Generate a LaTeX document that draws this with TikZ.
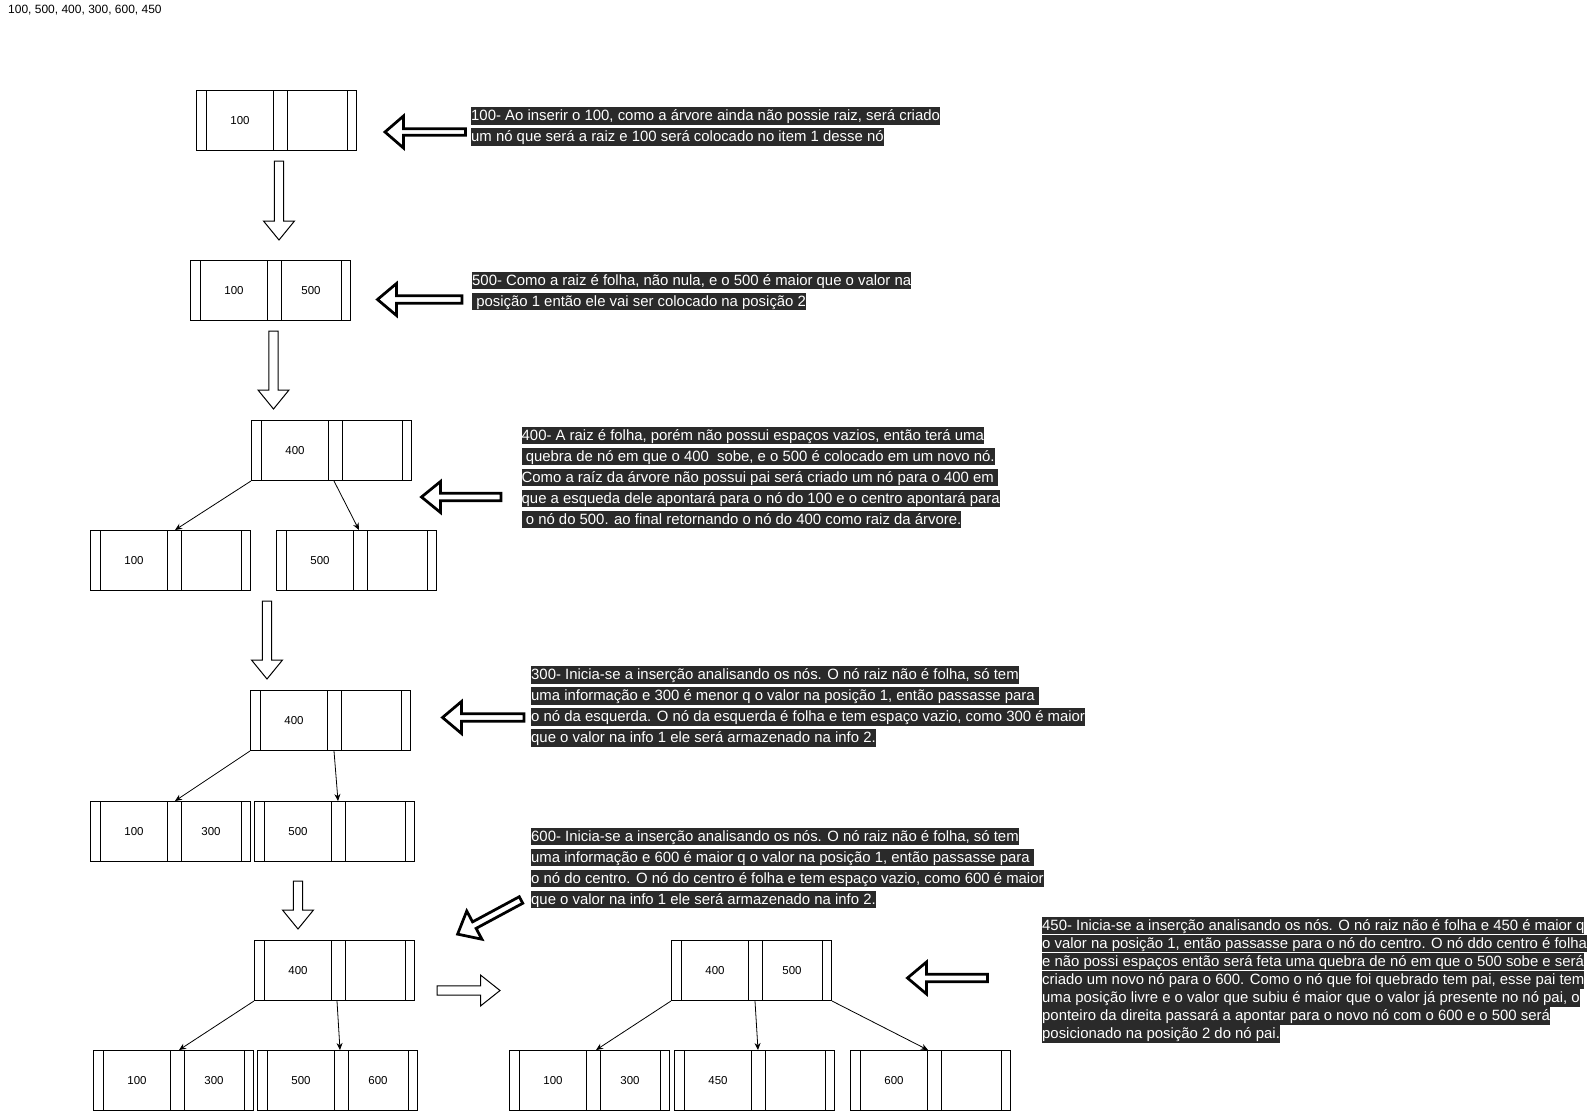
\documentclass[tikz,border=0pt]{standalone}
\usepackage{fontspec}
\setmainfont{Liberation Sans}
\usetikzlibrary{arrows.meta}

\definecolor{hlbg}{HTML}{2A2A2A}

% one highlighted line of an explanation
\newcommand\hl[1]{{\setlength{\fboxsep}{0pt}\colorbox{hlbg}{\rule[-4pt]{0pt}{17.5pt}\textcolor{white}{#1}}}}

% block arrow: style, tail point, angle, length, shaft half-width, head half-width, head length
\newcommand\blockarrow[7]{%
  \draw[#1, shift={#2}, rotate=#3]
    (0,-#5) -- ({#4-#7},-#5) -- ({#4-#7},-#6) -- (#4,0) -- ({#4-#7},#6) -- ({#4-#7},#5) -- (0,#5) -- cycle;}

% a B-tree node with two keys: name, top-left corner, key 1, key 2
\newcommand\treenode[4]{%
  \node[kbox, anchor=north west] (#1) at #2 {};
  \node[keyt] (#1-k1) at ([xshift=44pt]#1.west) {#3};
  \node[keyt] (#1-k2) at ([xshift=121pt]#1.west) {#4};}

\tikzset{
  kbox/.style={draw, line width=1pt, minimum width=160pt, minimum height=60pt, inner sep=0pt,
    path picture={\foreach \o in {10,77,91,151}{
      \draw[line width=1pt] ([xshift=\o pt]path picture bounding box.north west) -- ([xshift=\o pt]path picture bounding box.south west);}}},
  keyt/.style={font=\fontsize{11.5}{13}\selectfont, inner sep=0pt},
  link/.style={line width=0.8pt, -{Stealth[length=7pt,width=6pt]}},
  flowarrow/.style={draw, fill=white, line width=1pt, line join=miter},
  notearrow/.style={draw, fill=white, line width=2.75pt, line join=miter},
  note/.style={anchor=north west, inner sep=0pt, align=left, font=\fontsize{14.9}{21}\selectfont},
}

\begin{document}
\begin{tikzpicture}[x=1pt, y=-1pt]
\useasboundingbox[fill=white] (0,0) rectangle (1591,1111);

\node[anchor=west, inner sep=0pt, font=\fontsize{12}{14}\selectfont] (seq) at (8,10) {100, 500, 400, 300, 600, 450};

% insertion of 100
\treenode{B1}{(196,90)}{100}{}
% insertion of 500
\treenode{B2}{(190,260)}{100}{500}
% insertion of 400
\treenode{B3}{(251,420)}{400}{}
\treenode{B4}{(90,530)}{100}{}
\treenode{B5}{(276,530)}{500}{}
% insertion of 300
\treenode{B6}{(250,690)}{400}{}
\treenode{B7}{(90,801)}{100}{300}
\treenode{B8}{(254,801)}{500}{}
% insertion of 600
\treenode{B9}{(254,940)}{400}{}
\treenode{B10}{(93,1050)}{100}{300}
\treenode{B11}{(257,1050)}{500}{600}
% insertion of 450
\treenode{B12}{(671,940)}{400}{500}
\treenode{B13}{(509,1050)}{100}{300}
\treenode{B14}{(674,1050)}{450}{}
\treenode{B15}{(850,1050)}{600}{}

% child pointers
\draw[link] (B3.south west) -- ([xshift=85pt]B4.north west);
\draw[link] ([xshift=83pt]B3.south west) -- ([xshift=83pt]B5.north west);
\draw[link] (B6.south west) -- ([xshift=85pt]B7.north west);
\draw[link] ([xshift=84pt]B6.south west) -- ([xshift=84pt]B8.north west);
\draw[link] (B9.south west) -- ([xshift=86pt]B10.north west);
\draw[link] ([xshift=83pt]B9.south west) -- ([xshift=83pt]B11.north west);
\draw[link] (B12.south west) -- ([xshift=87pt]B13.north west);
\draw[link] ([xshift=84pt]B12.south west) -- ([xshift=84pt]B14.north west);
\draw[link] (B12.south east) -- ([xshift=78pt]B15.north west);

% steps between the trees
\blockarrow{flowarrow}{(279,161)}{-90}{79}{4.7}{15.5}{19}
\blockarrow{flowarrow}{(273.5,331)}{-90}{78}{4.7}{15.5}{19}
\blockarrow{flowarrow}{(267,601)}{-90}{78}{4.7}{15.5}{19}
\blockarrow{flowarrow}{(298,881)}{-90}{48}{4.7}{15.5}{19}
\blockarrow{flowarrow}{(437,990.5)}{0}{63}{4.7}{15.5}{19.5}

% pointers from the explanations to the trees
\blockarrow{notearrow}{(465.5,132)}{180}{80.5}{3.2}{16}{18.5}
\blockarrow{notearrow}{(462,299.5)}{180}{84.5}{3.7}{16}{19}
\blockarrow{notearrow}{(501,497)}{180}{79.5}{3.7}{15.5}{19}
\blockarrow{notearrow}{(524,717.5)}{180}{81.5}{3.7}{16}{19}
\blockarrow{notearrow}{(521,900)}{208.3}{72}{3.7}{16}{19}
\blockarrow{notearrow}{(987.5,978)}{180}{80}{3.7}{16}{19}

% explanations
\node[note] (t100) at (471,107) {\hl{100- Ao inserir o 100, como a árvore ainda não possie raiz, será criado}\\
\hl{um nó que será a raiz e 100 será colocado no item 1 desse nó}};

\node[note] (t500) at (472,271.5) {\hl{500- Como a raiz é folha, não nula, e o 500 é maior que o valor na}\\
\hl{\ posição 1 então ele vai ser colocado na posição 2}};

\node[note] (t400) at (521.5,426.5) {\hl{400- A raiz é folha, porém não possui espaços vazios, então terá uma}\\
\hl{\ quebra de nó em que o 400~ sobe, e o 500 é colocado em um novo nó.}\\
\hl{Como a raíz da árvore não possui pai será criado um nó para o 400 em\ }\\
\hl{que a esqueda dele apontará para o nó do 100 e o centro apontará para}\\
\hl{\ o nó do 500. ao final retornando o nó do 400 como raiz da árvore.}};

\node[note] (t300) at (531,666) {\hl{300- Inicia-se a inserção analisando os nós. O nó raiz não é folha, só tem}\\
\hl{uma informação e 300 é menor q o valor na posição 1, então passasse para\ }\\
\hl{o nó da esquerda. O nó da esquerda é folha e tem espaço vazio, como 300 é maior}\\
\hl{que o valor na info 1 ele será armazenado na info 2.}};

\node[note] (t600) at (531,827.5) {\hl{600- Inicia-se a inserção analisando os nós. O nó raiz não é folha, só tem}\\
\hl{uma informação e 600 é maior q o valor na posição 1, então passasse para\ }\\
\hl{o nó do centro. O nó do centro é folha e tem espaço vazio, como 600 é maior}\\
\hl{que o valor na info 1 ele será armazenado na info 2.}};

\node[note, font=\fontsize{14.9}{18.1}\selectfont] (t450) at (1042,916.5) {\hl{450- Inicia-se a inserção analisando os nós. O nó raiz não é folha e 450 é maior q}\\
\hl{o valor na posição 1, então passasse para o nó do centro. O nó ddo centro é folha}\\
\hl{e não possi espaços então será feta uma quebra de nó em que o 500 sobe e será}\\
\hl{criado um novo nó para o 600. Como o nó que foi quebrado tem pai, esse pai tem}\\
\hl{uma posição livre e o valor que subiu é maior que o valor já presente no nó pai, o}\\
\hl{ponteiro da direita passará a apontar para o novo nó com o 600 e o 500 será}\\
\hl{posicionado na posição 2 do nó pai.}};
\end{tikzpicture}
\end{document}
